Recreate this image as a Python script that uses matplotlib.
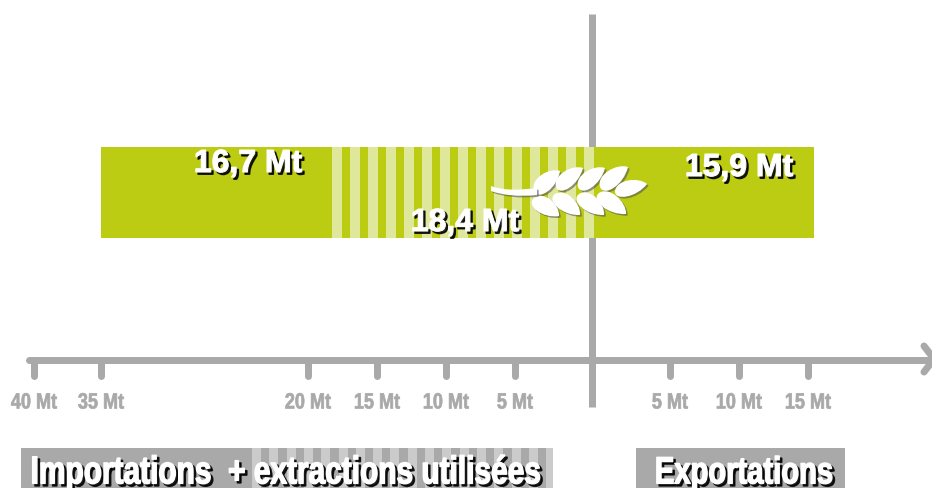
import numpy as np
import matplotlib
matplotlib.use("Agg")
import matplotlib.pyplot as plt
import matplotlib.patheffects as pe
from matplotlib.path import Path
from matplotlib.patches import PathPatch, Rectangle
from matplotlib.transforms import Affine2D

# --- data (Mt, lengths as drawn on the picture) ---
import_len = 16.75
extraction_len = 19.05
export_len = 15.87
value_labels = ["16,7 Mt", "18,4 Mt", "15,9 Mt"]
tick_labels = ["40 Mt", "35 Mt", "20 Mt", "15 Mt", "10 Mt", "5 Mt", "5 Mt", "10 Mt", "15 Mt"]
tick_pos = [-40.65, -35.8, -20.8, -15.8, -10.8, -5.8, 5.43, 10.43, 15.43]
legend_labels = ["Importations  + extractions utilisées", "Exportations"]

GREEN = "#bccc13"
LIGHT = "#dfe79a"
GREY = "#a9a9a9"
GREY_L = "#cbcbcb"
FONT = "Liberation Sans"

W, H = 932, 488
PX_PER_MT = 13.8
X0 = 595
fig = plt.figure(figsize=(W / 100, H / 100), dpi=100, facecolor="white")
ax = fig.add_axes([0, 0, 1, 1])
ax.set_xlim(-X0 / PX_PER_MT, (W - X0) / PX_PER_MT)
ax.set_ylim(H, 0)
ax.axis("off")
px = fig.add_axes([0, 0, 1, 1], zorder=5)
px.set_xlim(0, W)
px.set_ylim(H, 0)
px.axis("off")
px.patch.set_alpha(0)


class TallText(pe.AbstractPathEffect):
    """Stretch glyphs vertically about a pixel row, thicken them, add a hard shadow."""

    def __init__(self, cy, sy=1.0, stroke=0.0, shadow=0.0, shadow_alpha=.85):
        super().__init__()
        self.cy, self.sy, self.stroke, self.shadow, self.sa = H - cy, sy, stroke, shadow, shadow_alpha

    def draw_path(self, renderer, gc, tpath, affine, rgbFace=None):
        t = affine + Affine2D().translate(0, -self.cy).scale(1, self.sy).translate(0, self.cy)
        if self.shadow:
            g = renderer.new_gc()
            g.copy_properties(gc)
            g.set_alpha(self.sa)
            g.set_foreground("black")
            g.set_linewidth(self.stroke + .3)
            s = t + Affine2D().translate(self.shadow, -self.shadow)
            renderer.draw_path(g, tpath, s, (0, 0, 0))
            g.restore()
        g = renderer.new_gc()
        g.copy_properties(gc)
        g.set_foreground(rgbFace)
        g.set_linewidth(self.stroke)
        renderer.draw_path(g, tpath, t, rgbFace)
        g.restore()


# axes lines
lw = 7 * 72 / 100
ax_y = 360
ax.plot([-3 / PX_PER_MT] * 2, [14, 407], color=GREY, lw=lw, solid_capstyle="butt", zorder=1)
ax.plot([ax.get_xlim()[0] + 29 / PX_PER_MT, ax.get_xlim()[1] - 2 / PX_PER_MT], [ax_y, ax_y], color=GREY, lw=lw,
        solid_capstyle="round", zorder=1)
px.plot([924, 934, 924], [346, 359, 372], color=GREY, lw=lw, solid_capstyle="round", solid_joinstyle="miter", zorder=1)
for p, t in zip(tick_pos, tick_labels):
    ax.plot([p, p], [ax_y, 376], color=GREY, lw=lw, solid_capstyle="round", zorder=1)
    ax.text(p, 403, t, ha="center", va="center", color=GREY, fontsize=13, family=FONT, fontweight="bold",
            path_effects=[TallText(403, sy=1.22, stroke=.5)])

# bars
y_bar, h_bar = 147, 91
ax.barh(y_bar + h_bar / 2, import_len, left=-extraction_len - import_len, height=h_bar, color=GREEN, zorder=2)
ax.barh(y_bar + h_bar / 2, extraction_len, left=-extraction_len, height=h_bar, color=GREEN, zorder=2)
ax.barh(y_bar + h_bar / 2, export_len, left=0, height=h_bar, color=GREEN, zorder=2)
# stripes across the extraction bar
period = 18 / PX_PER_MT
sw = 10 / PX_PER_MT
for s in np.arange(-extraction_len, -sw / 2, period):
    ax.barh(y_bar + h_bar / 2, sw, left=s, height=h_bar, color=LIGHT, zorder=3)

# value labels
for x, y, t in [(248, 164, value_labels[0]), (465, 223, value_labels[1]), (739, 168, value_labels[2])]:
    px.text(x, y, t, ha="center", va="center", color="white", fontsize=23, family=FONT,
            fontweight="bold", zorder=8, path_effects=[TallText(y, sy=1.0, stroke=.8, shadow=2.2)])

# wheat
def leaf(base, tip, w):
    b, t = np.array(base, float), np.array(tip, float)
    d = t - b
    n = np.array([-d[1], d[0]]) / np.hypot(*d)
    c = [b, b - .08 * d + n * w, b + .6 * d + n * w * 1.1, t,
         b + .8 * d - n * w * .9, b + .12 * d - n * w * 1.1, b]
    return Path(c, [Path.MOVETO] + [Path.CURVE4] * 6)

leaves = [((534, 191), (560, 171), 11), ((556, 187), (583, 168), 10.5), ((578, 187), (605, 168), 10.5),
          ((600, 187), (628, 167), 11), ((615, 191), (647, 184), 10),
          ((534, 198), (559, 216), 11), ((555, 194), (580, 215), 11), ((579, 194), (604, 215), 11),
          ((599, 193), (626, 214), 11)]
soft = [pe.withSimplePatchShadow(offset=(1.2, -1.2), shadow_rgbFace="#555", alpha=.6)]
for b, t, w in leaves:
    px.add_patch(PathPatch(leaf(b, t, w), fc="white", ec="none", zorder=6, path_effects=soft))
stem = Path([(491, 186), (505, 191), (520, 190), (537, 188), (537, 195), (518, 197), (502, 195), (491, 191), (491, 186)],
            [Path.MOVETO, Path.CURVE4, Path.CURVE4, Path.CURVE4, Path.LINETO, Path.CURVE4, Path.CURVE4, Path.CURVE4, Path.CLOSEPOLY])
px.add_patch(PathPatch(stem, fc="white", ec="none", zorder=6, path_effects=soft))

# legend boxes
px.add_patch(Rectangle((21, 448), 532, 40, fc=GREY, ec="none", zorder=2))
for s in np.arange(252, 550, 17.3):
    px.add_patch(Rectangle((s, 448), min(9, 553 - s), 40, fc=GREY_L, ec="none", zorder=3))
px.add_patch(Rectangle((636, 448), 209, 40, fc=GREY, ec="none", zorder=2))
px.text(286, 473, legend_labels[0], ha="center", va="center", color="white", fontsize=21.5, family=FONT,
        fontweight="bold", zorder=8, path_effects=[TallText(473, sy=1.3, stroke=1.0, shadow=2.4)])
px.text(744, 473, legend_labels[1], ha="center", va="center", color="white", fontsize=21, family=FONT,
        fontweight="bold", zorder=8, path_effects=[TallText(473, sy=1.3, stroke=1.0, shadow=2.4)])

fig.savefig("out.png", dpi=100, facecolor="white")
